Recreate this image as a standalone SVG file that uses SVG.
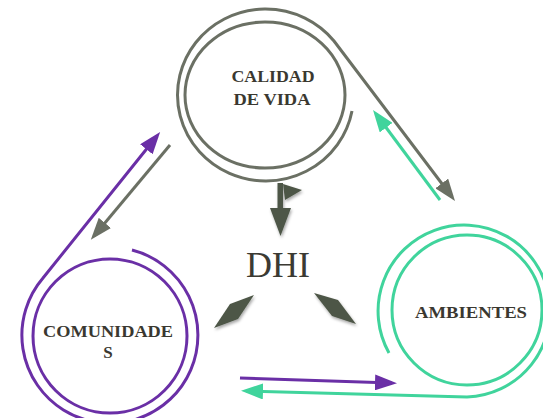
<svg xmlns="http://www.w3.org/2000/svg" width="543" height="418" viewBox="0 0 543 418">
<style>
.ring{fill:none;stroke-width:3}
.g{stroke:#6b7064}
.gr{stroke:#40d49c}
.p{stroke:#6a2fa6}
.lbl{font-family:"Liberation Serif","Times New Roman",serif;font-weight:bold;fill:#3a3830;text-anchor:middle}
.dark{fill:#4d5646}
</style>
<defs>
<marker id="ahG" markerUnits="userSpaceOnUse" markerWidth="22" markerHeight="16" refX="17" refY="8" orient="auto"><path d="M0,0 L22,8 L0,16 z" fill="#6b7064"/></marker>
<marker id="ahGr" markerUnits="userSpaceOnUse" markerWidth="22" markerHeight="16" refX="17" refY="8" orient="auto"><path d="M0,0 L22,8 L0,16 z" fill="#40d49c"/></marker>
<marker id="ahP" markerUnits="userSpaceOnUse" markerWidth="22" markerHeight="16" refX="17" refY="8" orient="auto"><path d="M0,0 L22,8 L0,16 z" fill="#6a2fa6"/></marker>
<filter id="sh" x="-30%" y="-30%" width="160%" height="160%"><feDropShadow dx="1" dy="2" stdDeviation="1.5" flood-color="#000" flood-opacity="0.35"/></filter>
</defs>

<g id="calidad">
<ellipse class="ring g" cx="265" cy="95" rx="80" ry="73"/>
<text class="lbl" x="273" y="82" font-size="16.5" textLength="83" lengthAdjust="spacingAndGlyphs">CALIDAD</text>
<text class="lbl" x="272" y="105" font-size="16.5" textLength="77" lengthAdjust="spacingAndGlyphs">DE VIDA</text>
</g>

<g id="ambientes">
<circle class="ring gr" cx="467" cy="310" r="75"/>
<text class="lbl" x="471" y="318" font-size="16" textLength="112" lengthAdjust="spacingAndGlyphs">AMBIENTES</text>
</g>

<g id="comunidades">
<circle class="ring p" cx="110" cy="336" r="77"/>
<text class="lbl" x="108" y="337" font-size="17" textLength="130" lengthAdjust="spacingAndGlyphs">COMUNIDADE</text>
<text class="lbl" x="108" y="358" font-size="17">S</text>
</g>

<g id="dhi">
<text x="278" y="277" font-family="'Liberation Serif','Times New Roman',serif" font-size="36" fill="#3b3a33" text-anchor="middle">DHI</text>
</g>

<g id="connectors">
<path class="ring g" d="M352,111 A88,86 0 1 1 334,41 L452,197" marker-end="url(#ahG)"/>
<path class="ring gr" d="M440,200 L376,114" marker-end="url(#ahGr)"/>
<path class="ring g" d="M170,145 L94,236" marker-end="url(#ahG)"/>
<path class="ring p" d="M132,250 A88,88 0 1 1 43,278 L157,136" marker-end="url(#ahP)"/>
<path class="ring gr" d="M389,353 A86,86 0 1 1 467,397 L246,391" marker-end="url(#ahGr)"/>
<path class="ring p" d="M240,378 L392,383" marker-end="url(#ahP)"/>
<g class="dark" filter="url(#sh)">
<rect x="277.5" y="183" width="5.5" height="28"/>
<polygon points="283,184 302,190 285,200"/>
<polygon points="270,208 291,208 280.5,236"/>
<polygon points="214,328 230,304 254,295 238,319"/>
<polygon points="314,293 338,300 356,324 332,316"/>
</g>
</g>
</svg>
